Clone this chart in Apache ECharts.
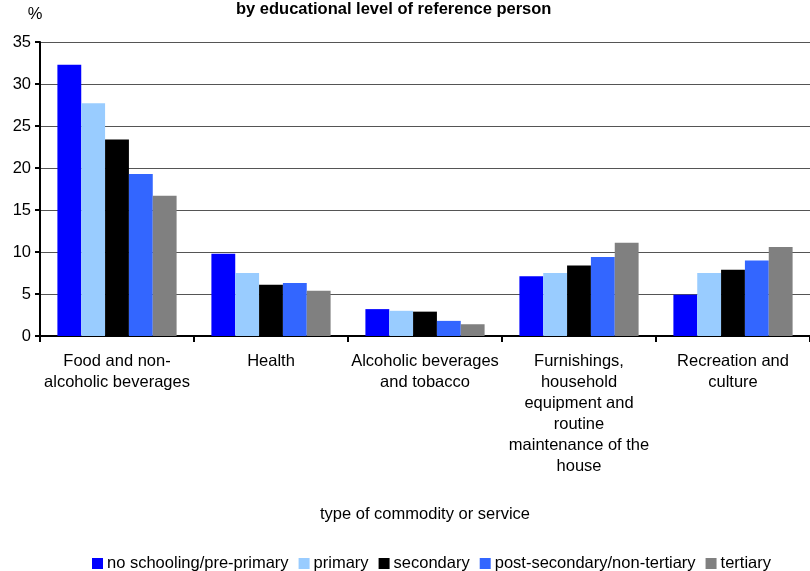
<!DOCTYPE html>
<html><head><meta charset="utf-8">
<script src="https://cdn.jsdelivr.net/npm/echarts@6/dist/echarts.min.js"></script>
<style>html,body{margin:0;padding:0;background:#fff}#c{width:810px;height:571px}</style>
</head><body><div id="c"></div>
<script>
const categories = ["Food and non-\nalcoholic beverages", "Health", "Alcoholic beverages\nand tobacco", "Furnishings,\nhousehold\nequipment and\nroutine\nmaintenance of the\nhouse", "Recreation and\nculture"];
const seriesNames = ["no schooling/pre-primary", "primary", "secondary", "post-secondary/non-tertiary", "tertiary"];
const noSchooling = [32.3, 9.8, 3.2, 7.1, 4.9];
const primary = [27.7, 7.5, 3.0, 7.5, 7.5];
const secondary = [23.4, 6.1, 2.9, 8.4, 7.9];
const postSecondary = [19.3, 6.3, 1.8, 9.4, 9.0];
const tertiary = [16.7, 5.4, 1.4, 11.1, 10.6];
const colors = ["#0000FF", "#99CCFF", "#000000", "#3366FF", "#808080"];
const values = [noSchooling, primary, secondary, postSecondary, tertiary];
const FONT = "Liberation Sans";
const FS = 16.5;
const chart = echarts.init(document.getElementById('c'));
chart.setOption({
  animation: false,
  textStyle: {fontFamily: FONT},
  title: {text: "by educational level of reference person", left: 231, top: -4,
    textStyle: {fontFamily: FONT, fontSize: 16.5, fontWeight: 'bold', color: '#000'}},
  legend: {top: 555, left: 92, padding: 0, itemWidth: 11, itemHeight: 11, itemGap: 10,
    icon: 'rect', textStyle: {fontFamily: FONT, fontSize: FS, color: '#000', padding: [0,0,0,-1]}},
  grid: {left: 40, width: 775, top: 42, bottom: 235},
  xAxis: {type: 'category', data: categories,
    name: "type of commodity or service", nameLocation: 'middle', nameGap: 170,
    nameTextStyle: {fontFamily: FONT, fontSize: FS, color: '#000'},
    axisLine: {lineStyle: {color: '#000', width: 2}},
    axisTick: {show: true, length: 6, lineStyle: {color: '#000', width: 2}},
    axisLabel: {fontFamily: FONT, fontSize: FS, color: '#000', lineHeight: 21, margin: 15, interval: 0}},
  yAxis: {type: 'value', min: 0, max: 35, interval: 5,
    name: '%', nameLocation: 'end', nameGap: 19,
    nameTextStyle: {fontFamily: FONT, fontSize: FS, color: '#000', align: 'center', padding: [0, 0, 0, -10]},
    axisLine: {show: true, lineStyle: {color: '#000', width: 2}},
    axisTick: {show: true, length: 5, lineStyle: {color: '#000', width: 2}},
    axisLabel: {fontFamily: FONT, fontSize: FS, color: '#000', margin: 9},
    splitLine: {lineStyle: {color: '#555', width: 1.2}}},
  series: seriesNames.map((n, i) => ({
    name: n, type: 'bar', data: values[i], barGap: '0%', barCategoryGap: '22.6%',
    itemStyle: {color: colors[i]}
  }))
});
</script></body></html>
